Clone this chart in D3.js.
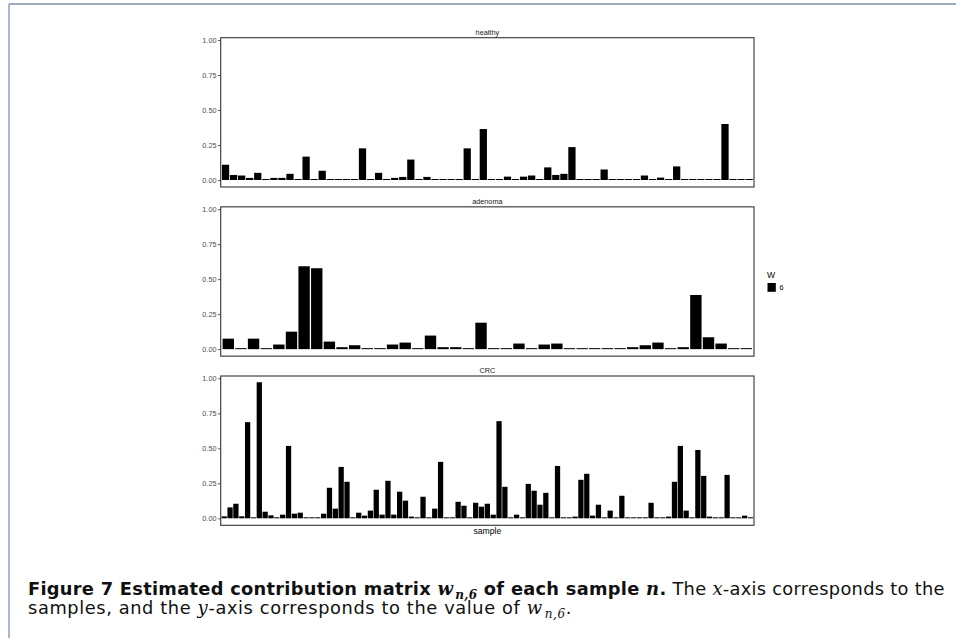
<!DOCTYPE html>
<html>
<head>
<meta charset="utf-8">
<script src="https://cdn.jsdelivr.net/npm/d3@7"></script>
<style>
  body { margin: 0; background: #fff; }
  svg { display: block; }
</style>
</head>
<body>
<svg width="956" height="638"></svg>
<script>
// group names (facet strips)
var groups = ["healthy", "adenoma", "CRC"];

// W_6 values per sample
var healthy = [0.109, 0.036, 0.032, 0.015, 0.051, 0.004, 0.015, 0.015, 0.044, 0.004,
  0.167, 0.004, 0.066, 0.004, 0.004, 0.004, 0.004, 0.226, 0.004, 0.051,
  0.007, 0.015, 0.022, 0.146, 0.007, 0.022, 0.004, 0.004, 0.004, 0.004,
  0.226, 0.004, 0.364, 0.004, 0.004, 0.024, 0.004, 0.024, 0.032, 0.004,
  0.090, 0.036, 0.044, 0.235, 0.004, 0.004, 0.004, 0.075, 0.004, 0.004,
  0.004, 0.004, 0.032, 0.004, 0.017, 0.004, 0.097, 0.004, 0.004, 0.004,
  0.004, 0.004, 0.400, 0.004, 0.004, 0.004];

var adenoma = [0.075, 0.005, 0.075, 0.005, 0.033, 0.125, 0.592, 0.578, 0.054, 0.014,
  0.028, 0.005, 0.005, 0.033, 0.047, 0.005, 0.097, 0.014, 0.014, 0.005,
  0.189, 0.005, 0.005, 0.040, 0.005, 0.033, 0.040, 0.004, 0.004, 0.004,
  0.004, 0.004, 0.014, 0.028, 0.047, 0.005, 0.014, 0.387, 0.085, 0.040,
  0.005, 0.005];

var crc = [0.014, 0.078, 0.104, 0.014, 0.687, 0.004, 0.972, 0.047, 0.021, 0.004,
  0.026, 0.517, 0.033, 0.040, 0.004, 0.004, 0.004, 0.033, 0.218, 0.069,
  0.367, 0.261, 0.004, 0.040, 0.019, 0.055, 0.204, 0.026, 0.268, 0.026,
  0.190, 0.126, 0.012, 0.004, 0.154, 0.004, 0.069, 0.403, 0.004, 0.004,
  0.118, 0.090, 0.004, 0.111, 0.083, 0.104, 0.026, 0.694, 0.225, 0.004,
  0.026, 0.004, 0.246, 0.197, 0.097, 0.182, 0.004, 0.374, 0.004, 0.004,
  0.012, 0.275, 0.318, 0.019, 0.097, 0.004, 0.055, 0.004, 0.161, 0.004,
  0.004, 0.004, 0.004, 0.111, 0.004, 0.004, 0.012, 0.261, 0.517, 0.055,
  0.004, 0.488, 0.303, 0.012, 0.004, 0.004, 0.310, 0.004, 0.004, 0.019,
  0.004];

var yTicks = [0, 0.25, 0.5, 0.75, 1];
var legendTitle = "W";
var legendLabels = ["6"];

var series = [healthy, adenoma, crc];

var svg = d3.select("svg");

// page frame (top + left rule)
svg.append("line").attr("x1", 9).attr("x2", 956).attr("y1", 4).attr("y2", 4)
  .attr("stroke", "#7f91a9").attr("stroke-width", 1.5);
svg.append("line").attr("x1", 9).attr("x2", 9).attr("y1", 4).attr("y2", 638)
  .attr("stroke", "#8fa0b8").attr("stroke-width", 1.5);

var left = 220.7, right = 754;
var step = 169.15;       // vertical distance between facets
var top0 = 40, bot0 = 180;

groups.forEach(function(name, i) {
  var values = series[i];

  var y = d3.scaleLinear()
    .domain([0, 1])
    .range([bot0 + i * step, top0 + i * step]);

  var x = d3.scaleBand()
    .domain(d3.range(values.length))
    .range([left, right])
    .paddingInner(0.1)
    .paddingOuter(0.15);

  var panelTop = y(1.0164), panelBot = y(-0.05);

  var g = svg.append("g");

  // bars
  g.selectAll("rect.bar")
    .data(values)
    .enter()
    .append("rect")
      .attr("class", "bar")
      .attr("x", function(d, k) { return x(k); })
      .attr("width", x.bandwidth())
      .attr("y", function(d) { return Math.min(y(d), y(0) - 1); })
      .attr("height", function(d) { return Math.max(y(0) - y(d), 1); })
      .attr("fill", "#000");

  // panel border
  g.append("rect")
    .attr("x", left).attr("y", panelTop)
    .attr("width", right - left).attr("height", panelBot - panelTop)
    .attr("fill", "none")
    .attr("stroke", "#333")
    .attr("stroke-width", 1.1);

  // y axis
  var ax = g.append("g")
    .attr("transform", "translate(" + left + ",0)")
    .call(d3.axisLeft(y).tickValues(yTicks).tickFormat(d3.format(".2f"))
      .tickSize(2.7).tickPadding(1.5));
  ax.select(".domain").remove();
  ax.selectAll("line").attr("stroke", "#333").attr("stroke-width", 0.8);
  ax.selectAll("text")
    .attr("fill", "#4d4d4d")
    .style("font-family", "Liberation Sans, Arial, sans-serif")
    .style("font-size", "7.3px");

  // strip label
  g.append("text")
    .attr("x", (left + right) / 2)
    .attr("y", panelTop - 3)
    .attr("text-anchor", "middle")
    .attr("fill", "#1a1a1a")
    .style("font-family", "Liberation Sans, Arial, sans-serif")
    .style("font-size", "7.3px")
    .text(name);
});

// x title
svg.append("text")
  .attr("x", (left + right) / 2)
  .attr("y", 534)
  .attr("text-anchor", "middle")
  .attr("fill", "#000")
  .style("font-family", "Liberation Sans, Arial, sans-serif")
  .style("font-size", "8.6px")
  .text("sample");

// legend
var lg = svg.append("g").attr("transform", "translate(767,0)");
lg.append("text")
  .attr("x", 0).attr("y", 278)
  .attr("fill", "#000")
  .style("font-family", "Liberation Sans, Arial, sans-serif")
  .style("font-size", "8.6px")
  .text(legendTitle);
lg.selectAll("rect.key")
  .data(legendLabels)
  .enter()
  .append("rect")
    .attr("class", "key")
    .attr("x", 0.5).attr("y", function(d, k) { return 283 + k * 17; })
    .attr("width", 8.3).attr("height", 8.8)
    .attr("fill", "#000");
lg.selectAll("text.lab")
  .data(legendLabels)
  .enter()
  .append("text")
    .attr("class", "lab")
    .attr("x", 12.5).attr("y", function(d, k) { return 290 + k * 17; })
    .attr("fill", "#000")
    .style("font-family", "Liberation Sans, Arial, sans-serif")
    .style("font-size", "7.3px")
    .text(function(d) { return d; });

// caption
var cap = svg.append("g")
  .style("font-family", "DejaVu Sans, sans-serif")
  .style("font-size", "17.8px")
  .attr("fill", "#111");

var serif = "DejaVu Serif, Liberation Serif, serif";

var l1 = cap.append("text").attr("x", 28).attr("y", 595);
l1.append("tspan").attr("font-weight", "bold").text("Figure 7  Estimated contribution matrix ");
l1.append("tspan").attr("font-weight", "bold").attr("font-style", "italic")
  .style("font-family", serif).style("font-size", "18px").text("w");
l1.append("tspan").attr("font-weight", "bold").attr("font-style", "italic")
  .attr("dy", 4).attr("dx", 2)
  .style("font-family", serif).style("font-size", "12px").text("n,6");
l1.append("tspan").attr("font-weight", "bold").attr("dy", -4).text(" of each sample ");
l1.append("tspan").attr("font-weight", "bold").attr("font-style", "italic")
  .style("font-family", serif).style("font-size", "18px").text("n");
l1.append("tspan").attr("font-weight", "bold").text(".");
l1.append("tspan").text(" The ");
l1.append("tspan").attr("font-style", "italic")
  .style("font-family", serif).style("font-size", "18px").text("x");
l1.append("tspan").text("-axis corresponds to the");

var l2 = cap.append("text").attr("x", 28).attr("y", 614);
l2.append("tspan").text("samples, and the ");
l2.append("tspan").attr("font-style", "italic")
  .style("font-family", serif).style("font-size", "18px").text("y");
l2.append("tspan").text("-axis corresponds to the value of ");
l2.append("tspan").attr("font-style", "italic")
  .style("font-family", serif).style("font-size", "18px").text("w");
l2.append("tspan").attr("font-style", "italic").attr("dy", 4).attr("dx", 2)
  .style("font-family", serif).style("font-size", "12px").text("n,6");
l2.append("tspan").attr("dy", -4).text(".");

// stretch caption lines to the widths in the figure
[[l1, 915], [l2, 542]].forEach(function(p) {
  var node = p[0].node();
  var w = node.getComputedTextLength();
  var n = node.textContent.length;
  p[0].style("letter-spacing", ((p[1] - w) / n) + "px");
});
</script>
</body>
</html>
